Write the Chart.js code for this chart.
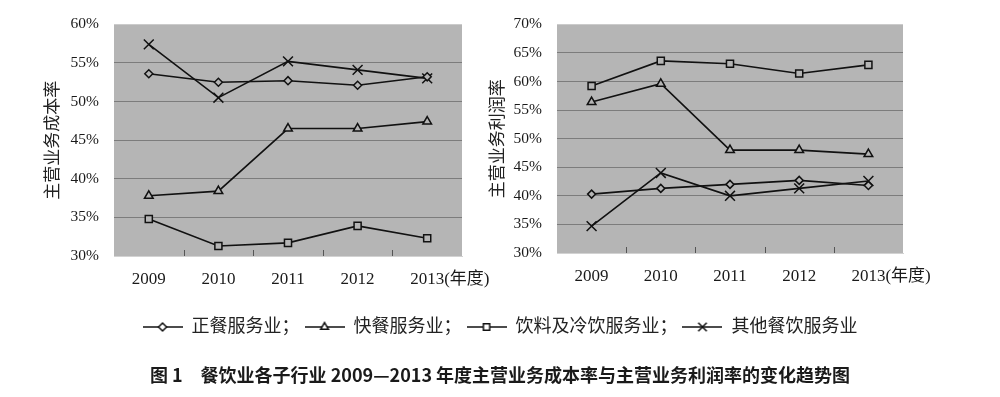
<!DOCTYPE html>
<html><head><meta charset="utf-8">
<script src="https://cdn.jsdelivr.net/npm/chart.js@4"></script>
<style>
html,body{margin:0;padding:0;background:#fff;overflow:hidden;width:1000px;height:397px;}
#wrap{position:relative;width:1000px;height:397px;}
#c1{position:absolute;left:0;top:0;width:1000px;height:397px;}
#c2{position:absolute;left:480px;top:0;width:520px;height:300px;}
</style></head><body>
<div id="wrap"><canvas id="c1" width="1000" height="397"></canvas><canvas id="c2" width="520" height="300"></canvas></div>
<script>
// ---- data ----
const years = ['2009', '2010', '2011', '2012', '2013'];
const yearSuffix = '(年度)';
const seriesNames = ['正餐服务业', '快餐服务业', '饮料及冷饮服务业', '其他餐饮服务业'];
// 主营业务成本率 (%)
const costZhengcan = [53.6, 52.5, 52.7, 52.1, 53.2];
const costKuaican  = [37.8, 38.4, 46.5, 46.5, 47.4];
const costYinliao  = [34.8, 31.3, 31.7, 33.9, 32.3];
const costQita     = [57.4, 50.5, 55.2, 54.1, 53.0];
// 主营业务利润率 (%)
const profitZhengcan = [40.3, 41.3, 42.0, 42.7, 41.8];
const profitKuaican  = [56.4, 59.6, 48.0, 48.0, 47.3];
const profitYinliao  = [59.2, 63.6, 63.1, 61.4, 62.9];
const profitQita     = [34.7, 44.0, 40.0, 41.3, 42.6];
const costTicks = [30, 35, 40, 45, 50, 55, 60];
const profitTicks = [30, 35, 40, 45, 50, 55, 60, 65, 70];
const costTitle = '主营业务成本率';
const profitTitle = '主营业务利润率';
const caption = '图 1　餐饮业各子行业 2009—2013 年度主营业务成本率与主营业务利润率的变化趋势图';

// ---- styles ----
const PLOT_BG = '#b5b5b5';
const LINE = '#111';
const pointStyles = ['rectRot', 'triangle', 'rect', 'crossRot'];
const pointRadii = [4, 5, 5, 7];
const SERIF = '"Liberation Serif", "Noto Sans CJK SC", serif';
const CJK = '"Noto Sans CJK SC", sans-serif';

function makeDatasets(arrs) {
  return arrs.map((d, i) => ({
    label: seriesNames[i],
    data: d,
    borderColor: LINE,
    borderWidth: 1.6,
    pointStyle: pointStyles[i],
    pointRadius: pointRadii[i],
    pointBorderWidth: 1.5,
    pointBorderColor: LINE,
    pointBackgroundColor: PLOT_BG,
    fill: false,
    tension: 0
  }));
}

function legendIcon(style) {
  const c = document.createElement('canvas');
  c.width = 40; c.height = 14;
  const g = c.getContext('2d');
  g.strokeStyle = LINE; g.lineWidth = 1.5;
  g.beginPath(); g.moveTo(0, 7); g.lineTo(40, 7); g.stroke();
  g.fillStyle = '#fff';
  const r = style === 'crossRot' ? 6 : (style === 'rectRot' ? 4 : 4.5);
  if (Chart.helpers && Chart.helpers.drawPoint) {
    Chart.helpers.drawPoint(g, {pointStyle: style, radius: r, borderWidth: 1.3, rotation: 0}, 20, 7);
  }
  return c;
}

const bgPlugin = {
  id: 'plotBg',
  beforeDraw(chart) {
    const a = chart.chartArea, ctx = chart.ctx;
    ctx.save(); ctx.fillStyle = PLOT_BG;
    ctx.fillRect(a.left, a.top, a.right - a.left, a.bottom - a.top);
    ctx.restore();
  },
  beforeDatasetsDraw(chart) {
    const xs = chart.scales.x, a = chart.chartArea, ctx = chart.ctx;
    ctx.save(); ctx.strokeStyle = '#555'; ctx.lineWidth = 1;
    for (let i = 1; i < years.length; i++) {
      const x = Math.round((xs.getPixelForValue(i - 1) + xs.getPixelForValue(i)) / 2) + 0.5;
      ctx.beginPath(); ctx.moveTo(x, a.bottom - 6); ctx.lineTo(x, a.bottom); ctx.stroke();
    }
    ctx.restore();
  },
  afterDraw(chart) {
    const xs = chart.scales.x, ctx = chart.ctx;
    const last = years.length - 1;
    const x = xs.getPixelForValue(last);
    ctx.save();
    ctx.font = '17px ' + SERIF;
    const w = ctx.measureText(years[last]).width;
    ctx.fillStyle = '#1a1a1a';
    ctx.textBaseline = 'middle'; ctx.textAlign = 'left';
    ctx.fillText(yearSuffix, x + w / 2, xs.top + 13 + 10.2);
    ctx.restore();
  }
};

function yScale(ticks, title, width, titlePad) {
  return {
    type: 'linear', position: 'left',
    min: ticks[0], max: ticks[ticks.length - 1],
    afterBuildTicks(s) { s.ticks = ticks.map(v => ({value: v})); },
    ticks: { padding: 15, color: '#1a1a1a', font: {family: SERIF, size: 15.5}, callback: v => v + '%' },
    grid: { drawTicks: false, lineWidth: 1,
            color: c => (c.tick.value === ticks[0] || c.tick.value === ticks[ticks.length - 1]) ? 'rgba(0,0,0,0)' : '#7c7c7c' },
    border: { display: false },
    title: { display: true, text: title, color: '#222', font: {family: CJK, size: 17}, padding: {top: titlePad, bottom: 0} },
    afterFit(s) { s.width = width; }
  };
}

function xScale(height) {
  return {
    type: 'category', offset: true,
    ticks: { padding: 13, color: '#1a1a1a', font: {family: SERIF, size: 17}, maxRotation: 0 },
    grid: { display: false, drawTicks: false },
    border: { display: true, color: '#d2d2d2', width: 1 },
    afterFit(s) { s.height = height; }
  };
}

// ---- left chart (cost rate) with shared legend + caption ----
new Chart(document.getElementById('c1'), {
  type: 'line',
  data: { labels: years, datasets: makeDatasets([costZhengcan, costKuaican, costYinliao, costQita]) },
  options: {
    responsive: false, animation: false, events: [],
    layout: { padding: {top: 13, left: 0, right: 0, bottom: 0} },
    scales: {
      x: xScale(57),
      y: yScale(costTicks, costTitle, 114, 41),
      pad: { type: 'linear', position: 'right', display: true,
             grid: {display: false, drawTicks: false}, border: {display: false},
             ticks: {display: false}, afterFit(s) { s.width = 538; } }
    },
    plugins: {
      legend: {
        display: true, position: 'bottom',
        labels: {
          usePointStyle: true, pointStyleWidth: 40, padding: 5, color: '#222',
          font: {family: SERIF, size: 18},
          generateLabels(chart) {
            return chart.data.datasets.map((ds, i) => ({
              text: ds.label + (i < chart.data.datasets.length - 1 ? '；' : ''),
              pointStyle: legendIcon(pointStyles[i]),
              fillStyle: '#fff', strokeStyle: LINE, lineWidth: 0,
              fontColor: '#222', hidden: false, datasetIndex: i
            }));
          }
        }
      },
      title: {
        display: true, position: 'bottom', text: caption, color: '#1a1a1a',
        font: {family: CJK, size: 18, weight: 'bold'},
        padding: {top: 18.2, bottom: 11.2}
      },
      tooltip: {enabled: false}
    }
  },
  plugins: [bgPlugin]
});

// ---- right chart (profit rate) ----
new Chart(document.getElementById('c2'), {
  type: 'line',
  data: { labels: years, datasets: makeDatasets([profitZhengcan, profitKuaican, profitYinliao, profitQita]) },
  options: {
    responsive: false, animation: false, events: [],
    layout: { padding: {top: 10, left: 0, right: 97, bottom: 0} },
    scales: {
      x: xScale(47),
      y: yScale(profitTicks, profitTitle, 77, 6)
    },
    plugins: { legend: {display: false}, title: {display: false}, tooltip: {enabled: false} }
  },
  plugins: [bgPlugin]
});
</script>
</body></html>
